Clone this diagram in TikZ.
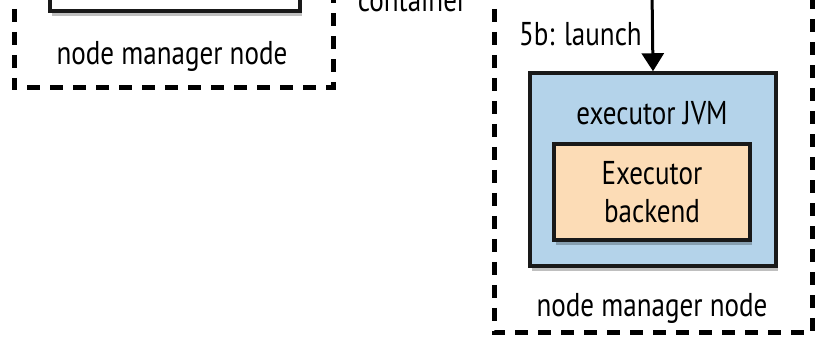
\documentclass[tikz,border=0pt]{standalone}
\usepackage{fontspec}
\setmainfont[FakeStretch=0.82]{PT Sans}
\usetikzlibrary{arrows.meta,shadows}
\definecolor{jvmblue}{HTML}{B4D3EA}
\definecolor{backorange}{HTML}{FCDCB6}
\begin{document}
\begin{tikzpicture}[x=1pt,y=-1pt,
  txt/.style={font=\fontsize{33}{36}\selectfont, inner sep=0pt, text=black},
  nmbox/.style={draw=black, line width=5pt, dash pattern=on 13pt off 10pt},
  solidbox/.style={draw=black!90, line width=3.5pt, inner sep=0pt,
    drop shadow={shadow xshift=2pt, shadow yshift=-5pt, opacity=0.25, fill=black}},
]
\useasboundingbox (0,0) rectangle (819,344);
\clip (0,0) rectangle (819,344);
% left node manager node (cropped)
\draw[nmbox] (14,-60) rectangle (333,88);
\node[solidbox, fill=white, minimum width=250pt, minimum height=60pt] (leftbox) at (175,-19) {};
\node[txt] (leftlabel) at (172,56) {node manager node};
\node[txt, anchor=base] (container) at (412,12) {container};
% right node manager node
\draw[nmbox] (494,-60) rectangle (812,333);
\node[solidbox, fill=jvmblue, minimum width=246pt, minimum height=193pt] (jvm) at (653,169.5) {};
\node[txt] (jvmlabel) at (652,113) {executor JVM};
\node[solidbox, fill=backorange, minimum width=196pt, minimum height=96pt,
  txt, align=center, font=\fontsize{33}{38}\selectfont] (backend) at (652,192) {Executor\\backend};
\node[txt] (rightlabel) at (652,308) {node manager node};
\coordinate (arrtop) at (652,-10);
\draw[line width=3pt, -{Triangle[width=22pt,length=18pt]}] (arrtop) -- (jvm.north);
\node[txt, anchor=east] (launch) at (642,34) {5b: launch};
\end{tikzpicture}
\end{document}
